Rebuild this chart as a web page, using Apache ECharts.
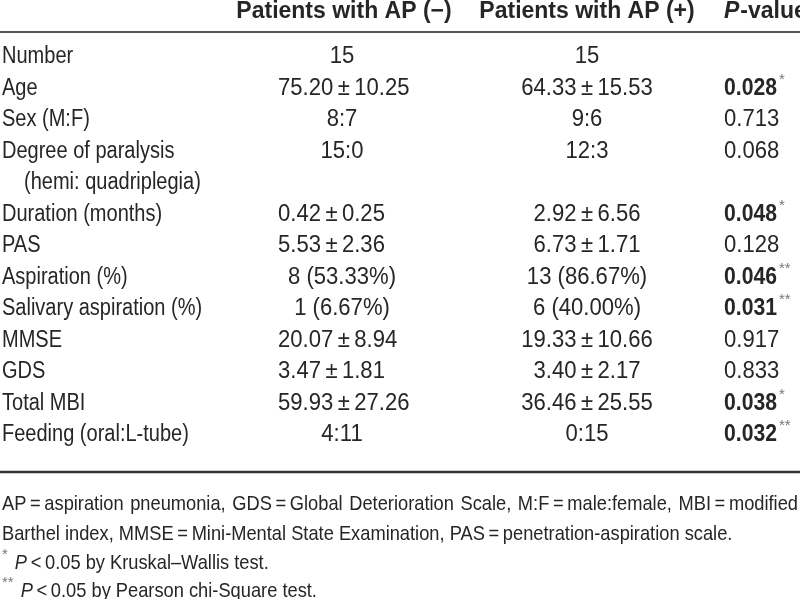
<!DOCTYPE html>
<html><head><meta charset="utf-8">
<script src="https://cdn.jsdelivr.net/npm/echarts@6/dist/echarts.min.js"></script>
<style>html,body{margin:0;padding:0;background:#fff}#c{width:800px;height:599px}</style>
</head><body><div id="c"></div>
<script>
// ---------- data ----------
const headerNeg = 'Patients with AP (\u2212)';
const headerPos = 'Patients with AP (+)';
const headerP = ['P', '-value'];
const rowLabels = ['Number', 'Age', 'Sex (M:F)', 'Degree of paralysis', '(hemi: quadriplegia)',
  'Duration (months)', 'PAS', 'Aspiration (%)', 'Salivary aspiration (%)', 'MMSE', 'GDS',
  'Total MBI', 'Feeding (oral:L-tube)'];
const rowIndent = [0, 0, 0, 0, 1, 0, 0, 0, 0, 0, 0, 0, 0];
const apNegative = ['15', '75.20\u2009\u00b1\u200910.25', '8:7', '15:0', '', '0.42\u2009\u00b1\u20090.25',
  '5.53\u2009\u00b1\u20092.36', '8 (53.33%)', '1 (6.67%)', '20.07\u2009\u00b1\u20098.94',
  '3.47\u2009\u00b1\u20091.81', '59.93\u2009\u00b1\u200927.26', '4:11'];
const apPositive = ['15', '64.33\u2009\u00b1\u200915.53', '9:6', '12:3', '', '2.92\u2009\u00b1\u20096.56',
  '6.73\u2009\u00b1\u20091.71', '13 (86.67%)', '6 (40.00%)', '19.33\u2009\u00b1\u200910.66',
  '3.40\u2009\u00b1\u20092.17', '36.46\u2009\u00b1\u200925.55', '0:15'];
const pValues = ['', '0.028', '0.713', '0.068', '', '0.048', '0.128', '0.046', '0.031', '0.917', '0.833', '0.038', '0.032'];
const pMarks = ['', '*', '', '', '', '*', '', '**', '**', '', '', '*', '**'];
const footLine1 = 'AP\u2009=\u2009aspiration pneumonia, GDS\u2009=\u2009Global Deterioration Scale, M:F\u2009=\u2009male:female, MBI\u2009=\u2009modified';
const footLine2 = 'Barthel index, MMSE\u2009=\u2009Mini-Mental State Examination, PAS\u2009=\u2009penetration-aspiration scale.';
const footStar1 = ['*', 'P', '\u2009<\u20090.05 by Kruskal\u2013Wallis test.'];
const footStar2 = ['**', 'P', '\u2009<\u20090.05 by Pearson chi-Square test.'];

// ---------- layout / style ----------
const FONT = "'Liberation Sans', Arial, sans-serif";
const FS = 23, FOOT_FS = 21, SUP_FS = 15;
const INK = '#262626', STAR = '#777';
const SX_TEXT = 0.87, SX_NUM = 0.96, SX_BOLDNUM = 0.92, SX_FOOT = 0.87;
const L = { labelX: 2, indent: 22, col1X: 342, col1Left: 278, col2X: 587, pX: 724, headerY: 12,
  headLineY: 32, bottomLineY: 472, footY: [504, 534, 563, 591], width: 800, line2Tighten: 1.5 };

const mctx = document.createElement('canvas').getContext('2d');
function textW(str, font) { mctx.font = font; return mctx.measureText(str).width; }
const fNorm = FS + 'px ' + FONT, fBold = 'bold ' + FS + 'px ' + FONT;
const fFoot = FOOT_FS + 'px ' + FONT, fSup = SUP_FS + 'px ' + FONT;

function txt(text, x, y, opt) {
  opt = opt || {};
  return { type: 'text', silent: true, x: x, y: y, scaleX: opt.sx || 1, scaleY: 1,
    style: { text: text, x: 0, y: 0, fill: opt.fill || INK,
      font: opt.font || fNorm, align: opt.align || 'left', verticalAlign: 'middle' } };
}

const graphics = [];
// header
graphics.push(txt(headerNeg, L.col1X + 2, L.headerY, { font: fBold, align: 'center' }));
graphics.push(txt(headerPos, L.col2X, L.headerY, { font: fBold, align: 'center' }));
const fBoldIt = 'italic bold ' + FS + 'px ' + FONT;
graphics.push(txt(headerP[0], L.pX, L.headerY, { font: fBoldIt }));
graphics.push(txt(headerP[1], L.pX + textW(headerP[0], fBoldIt) + 1, L.headerY, { font: fBold }));
// rules
graphics.push({ type: 'line', silent: true, shape: { x1: 0, y1: L.headLineY, x2: L.width, y2: L.headLineY },
  style: { stroke: '#555', lineWidth: 2 } });
graphics.push({ type: 'line', silent: true, shape: { x1: 0, y1: L.bottomLineY, x2: L.width, y2: L.bottomLineY },
  style: { stroke: '#333', lineWidth: 2.5 } });
// footnotes
function wordsLine(str, y, gap) {
  let x = L.labelX;
  str.split(' ').forEach(w => {
    graphics.push(txt(w, x, y, { font: fFoot, sx: SX_FOOT }));
    x += textW(w, fFoot) * SX_FOOT + gap;
  });
}
(function () {
  const words = footLine1.split(' ');
  const total = words.reduce((s, w) => s + textW(w, fFoot) * SX_FOOT, 0);
  const gap = (L.width - 2 - L.labelX - total) / (words.length - 1);
  wordsLine(footLine1, L.footY[0], gap);
  wordsLine(footLine2, L.footY[1], gap - L.line2Tighten);
})();
[footStar1, footStar2].forEach((f, k) => {
  const y = L.footY[2 + k];
  graphics.push(txt(f[0], L.labelX, y - 8, { font: fSup, fill: STAR }));
  const px = L.labelX + textW(f[0], fSup) + 7;
  const fIt = 'italic ' + FOOT_FS + 'px ' + FONT;
  graphics.push(txt(f[1], px, y, { font: fIt, sx: SX_FOOT }));
  graphics.push(txt(f[2], px + textW(f[1], fIt) * SX_FOOT, y, { font: fFoot, sx: SX_FOOT }));
});

const chart = echarts.init(document.getElementById('c'), null, { renderer: 'canvas' });
chart.setOption({
  animation: false,
  backgroundColor: '#fff',
  grid: { left: 0, right: 0, top: 41.25, height: 409.5 },
  xAxis: { type: 'value', min: 0, max: 800, show: false },
  yAxis: { type: 'category', data: rowLabels, inverse: true, show: false },
  graphic: graphics,
  series: [{
    type: 'custom',
    data: rowLabels.map((_, i) => [0, i]),
    encode: { x: 0, y: 1 },
    renderItem: function (params, api) {
      const i = params.dataIndex;
      const y = api.coord([0, i])[1];
      const xl = api.coord([L.labelX + rowIndent[i] * L.indent, i])[0];
      const negLeft = apNegative[i].indexOf('\u00b1') >= 0;
      const x1 = api.coord([negLeft ? L.col1Left : L.col1X, i])[0];
      const x2 = api.coord([L.col2X, i])[0];
      const xp = api.coord([L.pX, i])[0];
      const ch = [
        txt(rowLabels[i], xl, y, { sx: SX_TEXT }),
        txt(apNegative[i], x1, y, { align: negLeft ? 'left' : 'center', sx: SX_NUM }),
        txt(apPositive[i], x2, y, { align: 'center', sx: SX_NUM })];
      const sig = pMarks[i] !== '';
      const pf = sig ? fBold : fNorm;
      const psx = sig ? SX_BOLDNUM : SX_NUM;
      ch.push(txt(pValues[i], xp, y, { font: pf, sx: psx }));
      if (sig) ch.push(txt(pMarks[i], xp + textW(pValues[i], pf) * psx + 2, y - 9, { font: fSup, fill: STAR }));
      return { type: 'group', children: ch };
    }
  }]
});
</script></body></html>
